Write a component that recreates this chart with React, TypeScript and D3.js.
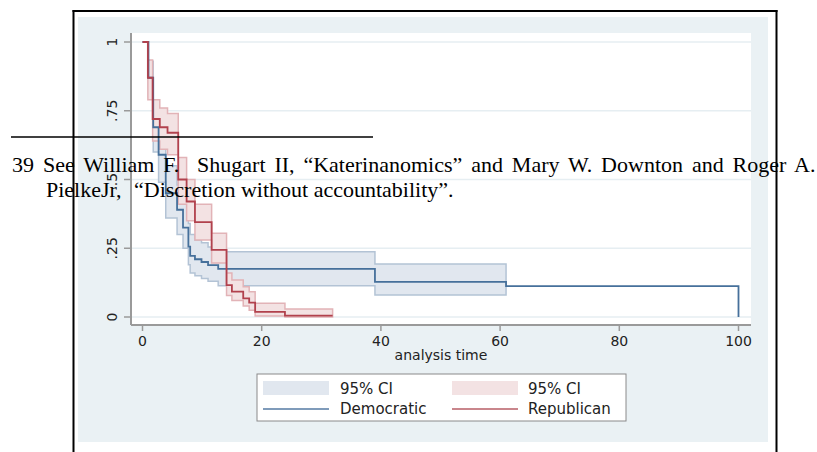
import React from "react";
import * as d3 from "d3";

// ---- data (Kaplan-Meier estimates) ----
const xTicks = [0, 20, 40, 60, 80, 100];
const yTicks = [0, 0.25, 0.5, 0.75, 1];
const yTickLabels = ["0", ".25", ".5", ".75", "1"];

const demTimes = [0, 1, 1.8, 2.7, 3.9, 5.8, 6.8, 7.7, 8, 8.8, 9.9, 11, 12.7, 39, 61, 100];
const demSurv = [1, 0.87, 0.69, 0.59, 0.45, 0.39, 0.325, 0.256, 0.222, 0.21, 0.2, 0.189, 0.175, 0.128, 0.112, 0];

const demCiTimes = [1, 1.8, 2.7, 3.9, 5.8, 6.8, 7.7, 8, 8.8, 9.9, 11, 12.7, 39, 61];
const demCiLower = [0.8, 0.6, 0.49, 0.36, 0.3, 0.25, 0.19, 0.16, 0.15, 0.14, 0.13, 0.114, 0.08, 0.08];
const demCiUpper = [0.93, 0.78, 0.68, 0.55, 0.48, 0.41, 0.34, 0.3, 0.28, 0.27, 0.255, 0.237, 0.193, 0.193];

const repTimes = [0, 0.9, 1.7, 2.9, 4.2, 6, 7.4, 8.8, 11.6, 14.1, 15, 16.9, 17.9, 18.9, 23.9, 31.9];
const repSurv = [1, 0.87, 0.72, 0.69, 0.67, 0.5, 0.42, 0.345, 0.244, 0.116, 0.092, 0.068, 0.052, 0.019, 0.005, 0.005];

const repCiTimes = [0.9, 1.7, 2.9, 4.2, 6, 7.4, 8.8, 11.6, 14.1, 15, 16.9, 17.9, 18.9, 23.9, 31.9];
const repCiLower = [0.79, 0.64, 0.61, 0.59, 0.41, 0.35, 0.28, 0.196, 0.078, 0.06, 0.04, 0.025, 0.004, 0, 0];
const repCiUpper = [0.935, 0.79, 0.76, 0.74, 0.58, 0.5, 0.41, 0.305, 0.16, 0.135, 0.11, 0.092, 0.05, 0.029, 0.029];

const legendLabels = ["95% CI", "Democratic", "95% CI", "Republican"];
const xTitle = "analysis time";

const footLine1 = "39 See William F.\u00a0 Shugart II, \u201cKaterinanomics\u201d and Mary W. Downton and Roger A.";
const footLine2a = "PielkeJr,";
const footLine2b = "\u201cDiscretion without accountability\u201d.";

// ---- layout ----
const W = 817;
const H = 452;
const plot = { x0: 131, x1: 751, y0: 33, y1: 325 };

const BLUE = "#46709b";
const RED = "#b1414d";
const BLUE_FILL = "#e1e7ef";
const BLUE_EDGE = "#b3c3d5";
const RED_FILL = "#f3e2e3";
const RED_EDGE = "#e2b3b7";
const SANS = "DejaVu Sans, Verdana, sans-serif";
const SERIF = "Liberation Serif, Times New Roman, serif";

export default function App() {
  const x = d3.scaleLinear().domain([0, 100]).range([142.5, 738.5]);
  const y = d3.scaleLinear().domain([0, 1]).range([317, 42]);

  const demBand = d3
    .area<number>()
    .curve(d3.curveStepAfter)
    .x((_, i) => x(demCiTimes[i]))
    .y0((_, i) => y(demCiLower[i]))
    .y1((_, i) => y(demCiUpper[i]))(demCiTimes);
  const repBand = d3
    .area<number>()
    .curve(d3.curveStepAfter)
    .x((_, i) => x(repCiTimes[i]))
    .y0((_, i) => y(repCiLower[i]))
    .y1((_, i) => y(repCiUpper[i]))(repCiTimes);

  const demLine = d3
    .line<number>()
    .curve(d3.curveStepAfter)
    .x((_, i) => x(demTimes[i]))
    .y((_, i) => y(demSurv[i]))(demTimes);
  const repLine = d3
    .line<number>()
    .curve(d3.curveStepAfter)
    .x((_, i) => x(repTimes[i]))
    .y((_, i) => y(repSurv[i]))(repTimes);

  const legend = { x: 257, y: 374, w: 369, h: 47 };
  const cols = [263, 452];

  return (
    <svg
      width={W}
      height={H}
      style={{ position: "absolute", left: 0, top: 0, background: "#ffffff" }}
    >
      {/* graph region */}
      <rect x={78} y={17} width={690} height={425} fill="#eaf1f4" />
      {/* plot region */}
      <rect x={plot.x0} y={plot.y0} width={plot.x1 - plot.x0} height={plot.y1 - plot.y0} fill="#ffffff" />
      {/* grid */}
      {yTicks.map((v) => (
        <line key={"g" + v} x1={plot.x0} x2={plot.x1} y1={y(v)} y2={y(v)} stroke="#e6eef2" strokeWidth={1.5} />
      ))}
      {/* CI bands */}
      <path d={demBand || ""} fill={BLUE_FILL} stroke={BLUE_EDGE} strokeWidth={1.5} />
      <path d={repBand || ""} fill={RED_FILL} stroke={RED_EDGE} strokeWidth={1.5} />
      {/* survival lines */}
      <path d={demLine || ""} fill="none" stroke={BLUE} strokeWidth={1.8} />
      <path d={repLine || ""} fill="none" stroke={RED} strokeWidth={1.8} />
      {/* axes */}
      <line x1={plot.x0} x2={plot.x0} y1={plot.y0} y2={plot.y1} stroke="#9a9a9a" strokeWidth={2} />
      <line x1={plot.x0} x2={plot.x1} y1={plot.y1} y2={plot.y1} stroke="#9a9a9a" strokeWidth={2} />
      {yTicks.map((v, i) => (
        <g key={"yt" + v}>
          <line x1={124} x2={plot.x0} y1={y(v)} y2={y(v)} stroke="#9a9a9a" strokeWidth={1.5} />
          <text
            transform={`translate(117,${y(v)}) rotate(-90)`}
            textAnchor="middle"
            fontFamily={SANS}
            fontSize={14}
            fill="#222"
          >
            {yTickLabels[i]}
          </text>
        </g>
      ))}
      {xTicks.map((v) => (
        <g key={"xt" + v}>
          <line x1={x(v)} x2={x(v)} y1={plot.y1} y2={plot.y1 + 6} stroke="#9a9a9a" strokeWidth={1.5} />
          <text x={x(v)} y={346} textAnchor="middle" fontFamily={SANS} fontSize={14} fill="#222">
            {v}
          </text>
        </g>
      ))}
      <text x={(plot.x0 + plot.x1) / 2} y={360} textAnchor="middle" fontFamily={SANS} fontSize={14} fill="#222">
        {xTitle}
      </text>
      {/* legend */}
      <rect x={legend.x} y={legend.y} width={legend.w} height={legend.h} fill="#ffffff" stroke="#8a8a8a" strokeWidth={1} />
      <rect x={cols[0]} y={381} width={66} height={14} fill={BLUE_FILL} />
      <rect x={cols[1]} y={381} width={66} height={14} fill={RED_FILL} />
      <line x1={cols[0]} x2={cols[0] + 66} y1={409} y2={409} stroke="#7f9bba" strokeWidth={2} />
      <line x1={cols[1]} x2={cols[1] + 66} y1={409} y2={409} stroke="#c9868c" strokeWidth={2} />
      <text x={cols[0] + 77} y={394} fontFamily={SANS} fontSize={15} fill="#222">{legendLabels[0]}</text>
      <text x={cols[0] + 77} y={414} fontFamily={SANS} fontSize={15} fill="#222">{legendLabels[1]}</text>
      <text x={cols[1] + 76} y={394} fontFamily={SANS} fontSize={15} fill="#222">{legendLabels[2]}</text>
      <text x={cols[1] + 76} y={414} fontFamily={SANS} fontSize={15} fill="#222">{legendLabels[3]}</text>
      {/* footnote overlay */}
      <line x1={11} x2={373} y1={137} y2={137} stroke="#000" strokeWidth={1.6} />
      <text x={12} y={172} fontFamily={SERIF} fontSize={22} fill="#000" style={{ wordSpacing: "3.4px" }}>
        {footLine1}
      </text>
      <text y={197} fontFamily={SERIF} fontSize={22} fill="#000">
        <tspan x={46}>{footLine2a}</tspan>
        <tspan x={134}>{footLine2b}</tspan>
      </text>
      {/* page frame */}
      <line x1={73.5} x2={73.5} y1={10} y2={H} stroke="#000" strokeWidth={2} />
      <line x1={776.5} x2={776.5} y1={10} y2={H} stroke="#000" strokeWidth={2} />
      <line x1={72.5} x2={777.5} y1={11} y2={11} stroke="#000" strokeWidth={2} />
    </svg>
  );
}
